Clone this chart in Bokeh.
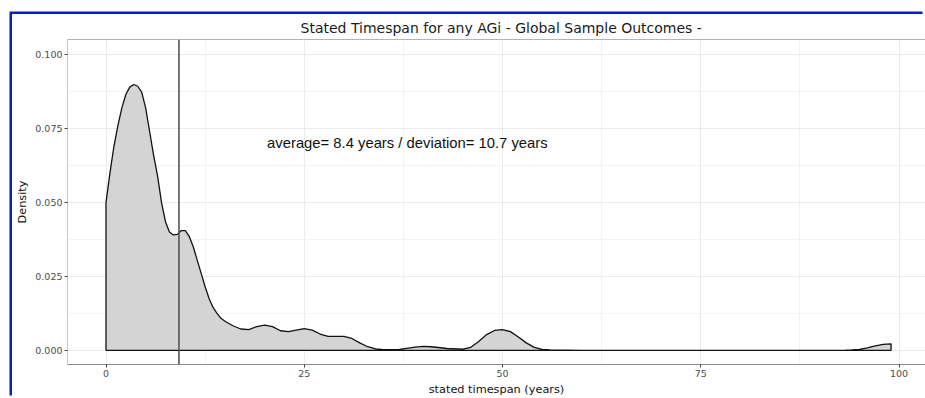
from bokeh.plotting import figure
from bokeh.models import Span, FixedTicker, LinearAxis, Range1d, Label
from bokeh.embed import file_html
from bokeh.resources import INLINE

# ---- data ----
timespan = [0, 0.5, 1.0, 1.5, 2.0, 2.5, 3.0, 3.5, 4.0, 4.5, 5.0, 5.5, 6.0, 6.5,
            7.0, 7.5, 8.0, 8.5, 9.0, 9.5, 10.0, 10.5, 11.0, 11.5, 12.0, 12.5,
            13.0, 13.5, 14.0, 14.5, 15, 16, 17, 18, 19, 20, 21, 22, 23, 24, 25,
            26, 27, 28, 29, 30, 31, 32, 33, 34, 35, 37, 39, 40, 41, 43, 45, 46,
            47, 48, 49, 50, 51, 52, 53, 54, 55, 56, 60, 70, 80, 90, 93, 94, 95,
            96, 97, 98, 99]
density = [0.050, 0.060, 0.069, 0.076, 0.082, 0.0865, 0.0890, 0.0899, 0.0893,
           0.0873, 0.0820, 0.0740, 0.0660, 0.0590, 0.0500, 0.0435, 0.0400,
           0.0390, 0.0392, 0.0405, 0.0405, 0.0385, 0.0350, 0.0305, 0.0260,
           0.0215, 0.0175, 0.0145, 0.0125, 0.0108, 0.0098, 0.0083, 0.0072,
           0.0070, 0.0080, 0.0085, 0.0080, 0.0066, 0.0063, 0.0068, 0.0073,
           0.0068, 0.0055, 0.0047, 0.0047, 0.0047, 0.0040, 0.0025, 0.0012,
           0.0005, 0.0002, 0.0003, 0.0011, 0.0013, 0.0012, 0.0006, 0.0004,
           0.0010, 0.0030, 0.0053, 0.0067, 0.0070, 0.0063, 0.0045, 0.0025,
           0.0010, 0.0003, 0.0001, 0.0, 0.0, 0.0, 0.0, 0.0, 0.0001, 0.0003,
           0.0008, 0.0015, 0.0020, 0.0022]
mean_marker = 9.2
annotation_text = "average= 8.4 years / deviation= 10.7 years"
annotation_x = 38
annotation_y = 0.07
title_text = "Stated Timespan for any AGi - Global Sample Outcomes -"
x_label = "stated timespan (years)"
y_label = "Density"
x_ticks = [0, 25, 50, 75, 100]
x_tick_labels = ["0", "25", "50", "75", "100"]
x_minor = [12.5, 37.5, 62.5, 87.5]
y_ticks = [0.0, 0.025, 0.05, 0.075, 0.1]
y_tick_labels = ["0.000", "0.025", "0.050", "0.075", "0.100"]
y_minor = [0.0125, 0.0375, 0.0625, 0.0875]

FONT = "DejaVu Sans"

p = figure(width=913, height=384,
           x_range=Range1d(-4.855, 103.34), y_range=Range1d(-0.00481, 0.10511),
           output_backend="svg", toolbar_location=None,
           min_border_left=55, min_border_right=0, min_border_top=24,
           min_border_bottom=33)
p.margin = (14, 0, 0, 12)
p.styles = {"box-shadow": "-2.5px -2.5px 0 0 #0a22b0"}

p.title.text = title_text
p.title.align = "left"
p.title.offset = 233
p.title.text_font = FONT
p.title.text_font_size = "14px"
p.title.text_font_style = "normal"
p.title.text_color = "#1a1a1a"
p.title.standoff = 7

p.outline_line_color = None
p.background_fill_color = "white"

# grid
p.xgrid.ticker = FixedTicker(ticks=x_ticks, minor_ticks=x_minor)
p.ygrid.ticker = FixedTicker(ticks=y_ticks, minor_ticks=y_minor)
for g in (p.xgrid[0], p.ygrid[0]):
    g.grid_line_color = "#ebebeb"
    g.grid_line_width = 1
    g.minor_grid_line_color = "#f3f3f3"
    g.minor_grid_line_width = 1

# density polygon
xs = [timespan[0]] + timespan + [timespan[-1]]
ys = [0.0] + density + [0.0]
p.patch(xs, ys, fill_color="#d4d4d4", line_color="#111111", line_width=1.3)

p.add_layout(Span(location=mean_marker, dimension="height",
                  line_color="#555555", line_width=1.6))

p.add_layout(Label(x=annotation_x, y=annotation_y, text=annotation_text,
                   text_font="Liberation Sans", text_font_size="14.8px",
                   text_align="center", text_baseline="middle",
                   text_color="#111111"))

# axes
xa = p.xaxis[0]
xa.ticker = FixedTicker(ticks=x_ticks)
xa.major_label_overrides = {t: l for t, l in zip(x_ticks, x_tick_labels)}
ya = p.yaxis[0]
ya.ticker = FixedTicker(ticks=y_ticks)
ya.major_label_overrides = {t: l for t, l in zip(y_ticks, y_tick_labels)}
xa.axis_label = x_label
ya.axis_label = y_label
for ax, col in ((xa, "#8c8c8c"), (ya, "#c8c8c8")):
    ax.axis_line_color = col
    ax.axis_line_width = 1
    ax.major_tick_line_color = "#444444"
    ax.major_tick_in = 0
    ax.major_tick_out = 3
    ax.minor_tick_line_color = None
    ax.major_label_text_font = FONT
    ax.major_label_text_font_size = "9.5px"
    ax.major_label_text_color = "#4d4d4d"
    ax.major_label_standoff = 2
    ax.axis_label_text_font = FONT
    ax.axis_label_text_font_size = "11.3px"
    ax.axis_label_text_font_style = "normal"
    ax.axis_label_text_color = "#111111"
    ax.axis_label_standoff = 3

top = LinearAxis(ticker=FixedTicker(ticks=[]), axis_line_color="#b4b4b4",
                 major_tick_line_color=None, minor_tick_line_color=None,
                 major_label_text_font_size="0px", major_label_standoff=0)
p.add_layout(top, "above")

open("out.html", "w").write(file_html(p, INLINE))
